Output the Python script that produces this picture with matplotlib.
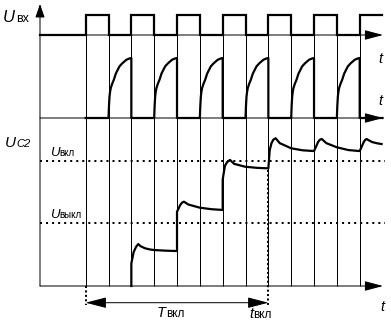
import numpy as np
import matplotlib.pyplot as plt

plt.rcParams['font.family'] = ['Liberation Sans', 'DejaVu Sans']

# clock: pulse starts and width, in periods
pulse_starts = [1, 2, 3, 4, 5, 6, 7]
pulse_width = 0.5
t_axis_end = 7.51

# charging of the second trace after a falling edge (periods, fraction of full level)
charge_t = [0.0, 0.01, 0.022, 0.035, 0.05, 0.08, 0.118, 0.16, 0.2, 0.24, 0.3, 0.39, 0.45, 0.5]
charge_v = [0.0, 0.2, 0.36, 0.44, 0.50, 0.57, 0.64, 0.74, 0.80, 0.86, 0.91, 0.97, 0.99, 1.0]

# U_C2 in units of U_вкл
uc2_t = [2.0, 2.0, 2.05, 2.10, 2.15, 2.2, 2.30, 2.4, 2.5, 2.75, 3.0,
         3.0, 3.07, 3.11, 3.15, 3.25, 3.5, 3.75, 4.0,
         4.0, 4.05, 4.1, 4.16, 4.25, 4.49, 4.75, 5.0,
         5.03, 5.07, 5.11, 5.16, 5.25, 5.5, 5.75, 6.0,
         6.04, 6.09, 6.13, 6.17, 6.27, 6.5, 6.75, 7.0,
         7.04, 7.09, 7.12, 7.15, 7.27, 7.38, 7.48]
uc2_v = [0.0, 0.18, 0.27, 0.31, 0.335, 0.318, 0.301, 0.292, 0.287, 0.282, 0.279,
         0.593, 0.646, 0.665, 0.673, 0.650, 0.625, 0.613, 0.607,
         0.85, 0.96, 0.99, 1.006, 0.975, 0.952, 0.943, 0.939,
         1.085, 1.141, 1.168, 1.179, 1.14, 1.099, 1.083, 1.077,
         1.109, 1.150, 1.168, 1.173, 1.14, 1.107, 1.085, 1.077,
         1.109, 1.150, 1.166, 1.173, 1.149, 1.139, 1.133]

u_on = 1.0
u_off = 0.5
t_period_start = 1.0
t_on = 5.0

# layout: x in periods, y in pixels from the bottom edge
X0_PX, PERIOD_PX = 40, 45.67
IN_BASE, IN_AMP = 291, 20
OUT_BASE, OUT_AMP = 208, 60
C2_BASE, C2_SCALE = 40, 125.3
THIN, THICK = 0.72, 1.6

fig = plt.figure(figsize=(3.91, 3.26), dpi=100)
ax = fig.add_axes([0, 0, 1, 1])
ax.set_xlim(-X0_PX / PERIOD_PX, (391 - X0_PX) / PERIOD_PX)
ax.set_ylim(0, 326)
ax.axis('off')


def arrow(x0, y0, x1, y1, style='-|>', hl=0.75, hw=0.2):
    ax.annotate('', xy=(x1, y1), xytext=(x0, y0),
                arrowprops=dict(arrowstyle=f'{style},head_length={hl},head_width={hw}',
                                lw=THIN, color='k', shrinkA=0, shrinkB=0,
                                mutation_scale=15))


# axes
arrow(0, C2_BASE, 0, 322, hl=0.55, hw=0.19)
for base in (IN_BASE, OUT_BASE, C2_BASE):
    arrow(0, base, t_axis_end, base)

# vertical guides at every clock edge
edges = []
for s in pulse_starts:
    edges.append(s)
    if s != pulse_starts[-1]:
        edges.append(s + pulse_width)
ax.vlines(edges, C2_BASE, IN_BASE, color='k', lw=THIN)

# input pulses
tin, vin = [0], [0]
for s in pulse_starts:
    tin += [s, s, s + pulse_width, s + pulse_width]
    vin += [0, 1, 1, 0]
tin, vin = tin[:-1], vin[:-1]
tin[-1] -= 0.01
ax.plot(tin, IN_BASE + IN_AMP * np.array(vin), color='k', lw=THICK,
        solid_joinstyle='miter')

# second trace: charges in the gaps, reset on every rising edge
tout, vout = [], []
for s in pulse_starts:
    tout += [s, s + pulse_width]
    vout += [0, 0]
    if s != pulse_starts[-1]:
        tout += [s + pulse_width + c for c in charge_t] + [s + 1]
        vout += list(charge_v) + [0]
ax.plot(tout, OUT_BASE + OUT_AMP * np.array(vout), color='k', lw=THICK,
        solid_joinstyle='round')

# U_C2 staircase
ax.plot(uc2_t, C2_BASE + C2_SCALE * np.array(uc2_v), color='k', lw=THICK,
        solid_joinstyle='round')

# thresholds
for u in (u_on, u_off):
    ax.plot([0, 7.55], [C2_BASE + C2_SCALE * u] * 2, color='k', lw=1.45,
            ls=(0, (1, 2)), dash_capstyle='butt')

# T_вкл interval
y_span = 23.3
ax.plot([t_period_start] * 2, [C2_BASE, y_span - 2], color='k', lw=1.45,
        ls=(0, (1, 1.2)), dash_capstyle='butt')
ax.plot([t_on] * 2, [C2_BASE + C2_SCALE * uc2_v[26] - 2, y_span - 2], color='k',
        lw=1.45, ls=(0, (1, 1.2)), dash_capstyle='butt')
arrow(t_period_start, y_span, t_on, y_span, style='<|-|>', hl=0.85, hw=0.22)


def label(t, y, main, sub, size=10, sub_size=7.5, gap=8.0, drop=0.0,
          sub_style='normal'):
    ax.text(t, y, main, fontsize=size, style='italic', ha='left', va='baseline')
    ax.annotate(sub, (t, y), xytext=(gap, -drop), textcoords='offset points',
                fontsize=sub_size, style=sub_style, ha='left', va='baseline')


label(-0.81, 304, 'U', 'вх', size=12, sub_size=9, gap=9.5)
label(-0.77, 179, 'U', 'C2', size=11, sub_size=8, gap=8.5, sub_style='italic')
label(0.22, C2_BASE + C2_SCALE * u_on + 5, 'U', 'вкл', size=9.5, sub_size=7, gap=6.5)
label(0.22, C2_BASE + C2_SCALE * u_off + 5, 'U', 'выкл', size=9.5, sub_size=7, gap=6.5)
label(2.56, 9, 'T', 'вкл', size=10.5, sub_size=8.5, gap=6.5)
label(4.58, 8, 't', 'вкл', size=10.5, sub_size=8.5, gap=3.0)

for y in (263, 221, 15):
    ax.text(7.40 if y > 20 else 7.46, y, 't', fontsize=10.5, style='italic',
            ha='left', va='baseline')

fig.savefig('out.png', dpi=100)
